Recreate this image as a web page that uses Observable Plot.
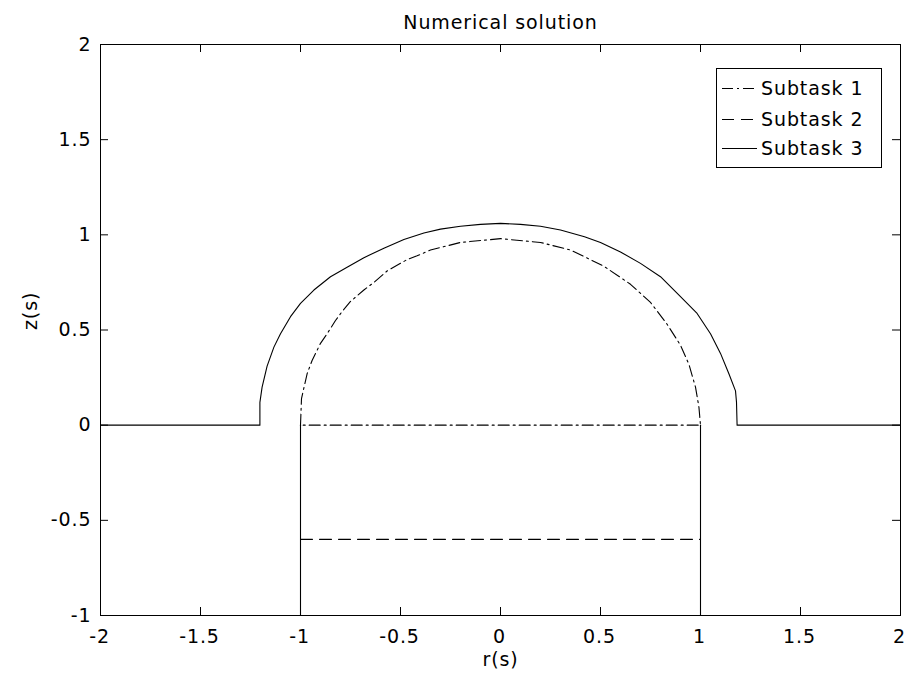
<!DOCTYPE html>
<html>
<head>
<meta charset="utf-8">
<script src="https://cdn.jsdelivr.net/npm/d3@7"></script>
<script src="https://cdn.jsdelivr.net/npm/@observablehq/plot@0.6"></script>
<style>
  html, body { margin: 0; padding: 0; background: #fff; }
  #chart { width: 905px; height: 678px; }
  #chart svg text { letter-spacing: 0.9px; }
</style>
</head>
<body>
<div id="chart"></div>
<script>
// Tick values
const xTicks = [-2, -1.5, -1, -0.5, 0, 0.5, 1, 1.5, 2];
const yTicks = [-1, -0.5, 0, 0.5, 1, 1.5, 2];

// Subtask 1: upper arc from r = -1 to r = 1, closed by the base line z = 0
const sub1R = [-1, -0.995, -0.967, -0.942, -0.9, -0.867, -0.825, -0.79, -0.75, -0.683, -0.633, -0.567, -0.467, -0.417, -0.35, -0.2, 0, 0.2, 0.35, 0.42, 0.517, 0.65, 0.75, 0.833, 0.9, 0.942, 0.975, 0.992, 1, -1];
const sub1Z = [0, 0.14, 0.27, 0.34, 0.43, 0.48, 0.55, 0.6, 0.65, 0.71, 0.75, 0.81, 0.87, 0.89, 0.92, 0.96, 0.98, 0.96, 0.92, 0.885, 0.835, 0.74, 0.645, 0.53, 0.42, 0.32, 0.2, 0.096, 0, 0];

// Subtask 2: flat segment at z = -0.6
const sub2R = [-1, 1];
const sub2Z = [-0.6, -0.6];

// Subtask 3: free surface with the bulge, plus the two side walls
const sub3R = [-2, -1.203, -1.203, -1.192, -1.167, -1.133, -1.1, -1.05, -1, -0.933, -0.85, -0.767, -0.683, -0.583, -0.483, -0.383, -0.3, -0.2, -0.1, 0, 0.1, 0.2, 0.3, 0.42, 0.5, 0.6, 0.7, 0.8, 0.9, 0.983, 1.05, 1.1, 1.142, 1.175, 1.18, 1.183, 2];
const sub3Z = [0, 0, 0.12, 0.2, 0.31, 0.41, 0.48, 0.57, 0.64, 0.71, 0.78, 0.83, 0.88, 0.93, 0.975, 1.01, 1.03, 1.045, 1.055, 1.06, 1.055, 1.045, 1.025, 0.99, 0.96, 0.91, 0.85, 0.78, 0.675, 0.587, 0.48, 0.377, 0.27, 0.18, 0.12, 0, 0];
const wallR = [-1, -1, 1, 1];
const wallZ = [0, -1, 0, -1];
const wallSeg = ["left", "left", "right", "right"];

const seriesNames = ["Subtask 1", "Subtask 2", "Subtask 3"];
const dashes = ["11,4,2,4", "12,7", null];

const sub1 = sub1R.map((r, i) => ({r, z: sub1Z[i]}));
const sub2 = sub2R.map((r, i) => ({r, z: sub2Z[i]}));
const sub3 = sub3R.map((r, i) => ({r, z: sub3Z[i], seg: "surface"}))
  .concat(wallR.map((r, i) => ({r, z: wallZ[i], seg: wallSeg[i]})));

const FONT = "DejaVu Sans";
const FS = 19;
const fmt = d => String(d);

const plot = Plot.plot({
  width: 905,
  height: 678,
  marginTop: 44,
  marginRight: 5,
  marginBottom: 63,
  marginLeft: 100,
  style: {fontFamily: FONT, fontSize: FS + "px", background: "#fff", color: "#000"},
  x: {domain: [-2, 2]},
  y: {domain: [-1, 2]},
  marks: [
    Plot.line(sub1, {x: "r", y: "z", stroke: "#000", strokeWidth: 1.1, strokeDasharray: dashes[0]}),
    Plot.line(sub2, {x: "r", y: "z", stroke: "#000", strokeWidth: 1.1, strokeDasharray: dashes[1]}),
    Plot.line(sub3, {x: "r", y: "z", z: "seg", stroke: "#000", strokeWidth: 1.1}),
    // inward ticks on all four sides
    Plot.tickX(xTicks, {x: d => d, insetTop: 563, stroke: "#000"}),
    Plot.tickX(xTicks, {x: d => d, insetBottom: 563, stroke: "#000"}),
    Plot.tickY(yTicks, {y: d => d, insetRight: 792, stroke: "#000"}),
    Plot.tickY(yTicks, {y: d => d, insetLeft: 792, stroke: "#000"}),
    Plot.frame({stroke: "#000"}),
    Plot.axisX(xTicks, {tickSize: 0, tickPadding: 14, tickFormat: fmt, label: null, fontSize: FS, dx: -1}),
    Plot.axisY(yTicks, {tickSize: 0, tickPadding: 9, tickFormat: fmt, label: null, fontSize: FS}),
    Plot.text(["r(s)"], {frameAnchor: "bottom", dy: 50, fontSize: FS}),
    Plot.text(["z(s)"], {frameAnchor: "left", dx: -70, rotate: -90, fontSize: FS}),
    Plot.text(["Numerical solution"], {frameAnchor: "top", dy: -29, fontSize: FS})
  ]
});

document.getElementById("chart").appendChild(plot);

// Legend box in the upper-right corner of the axes
const svg = d3.select(plot);
const lg = svg.append("g")
  .attr("font-family", FONT)
  .attr("font-size", FS)
  .attr("text-anchor", "start");
lg.append("rect")
  .attr("x", 716.5).attr("y", 68.5).attr("width", 165).attr("height", 99)
  .attr("fill", "#fff").attr("stroke", "#000");
const rowY = [88, 119, 148];
seriesNames.forEach((name, i) => {
  lg.append("line")
    .attr("x1", 722).attr("x2", 757)
    .attr("y1", rowY[i] + 0.5).attr("y2", rowY[i] + 0.5)
    .attr("stroke", "#000")
    .attr("stroke-width", 1.1)
    .attr("stroke-dasharray", dashes[i]);
  lg.append("text")
    .attr("x", 761).attr("y", rowY[i])
    .attr("dy", "0.35em")
    .attr("fill", "#000")
    .text(name);
});
</script>
</body>
</html>
